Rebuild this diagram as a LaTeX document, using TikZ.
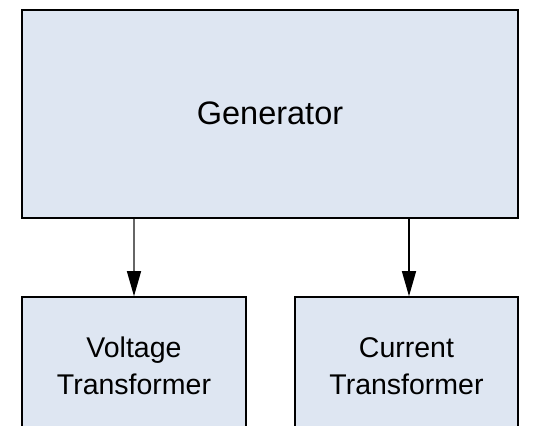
\documentclass[tikz,border=0pt]{standalone}
\usepackage{fontspec}
\setmainfont{Liberation Sans}
\usetikzlibrary{arrows.meta}
\definecolor{boxfill}{RGB}{222,230,242}
\tikzset{
  box/.style={draw=black, fill=boxfill, line width=1.6pt, rectangle, inner sep=0pt},
  lbl/.style={align=center, font=\fontsize{28.5}{37}\selectfont, text=black},
  arr/.style={line width=1.4pt, -{Triangle[width=14pt,length=25pt,color=black]}}
}
\begin{document}
\begin{tikzpicture}[x=1pt,y=1pt]
\useasboundingbox (0,0) rectangle (550,426);
\clip (0,0) rectangle (550,426);
\fill[white] (0,0) rectangle (550,426);
\node[box, minimum width=496pt, minimum height=208pt] (gen) at (270,312) {};
\node[font=\fontsize{32.5}{38}\selectfont, text=black] (gentext) at (270,313) {Generator};
\node[box, minimum width=224pt, minimum height=160pt] (vt) at (134,49) {};
\node[box, minimum width=223pt, minimum height=160pt] (ct) at (406.5,49) {};
\node[lbl] (vttext) at (134,60) {Voltage\\Transformer};
\node[lbl] (cttext) at (406.5,60) {Current\\Transformer};
\draw[arr, draw=black!60] (gen.south -| vt.north) -- (vt.north);
\draw[arr] (gen.south -| 409,0) -- (ct.north -| 409,0);
\end{tikzpicture}
\end{document}
